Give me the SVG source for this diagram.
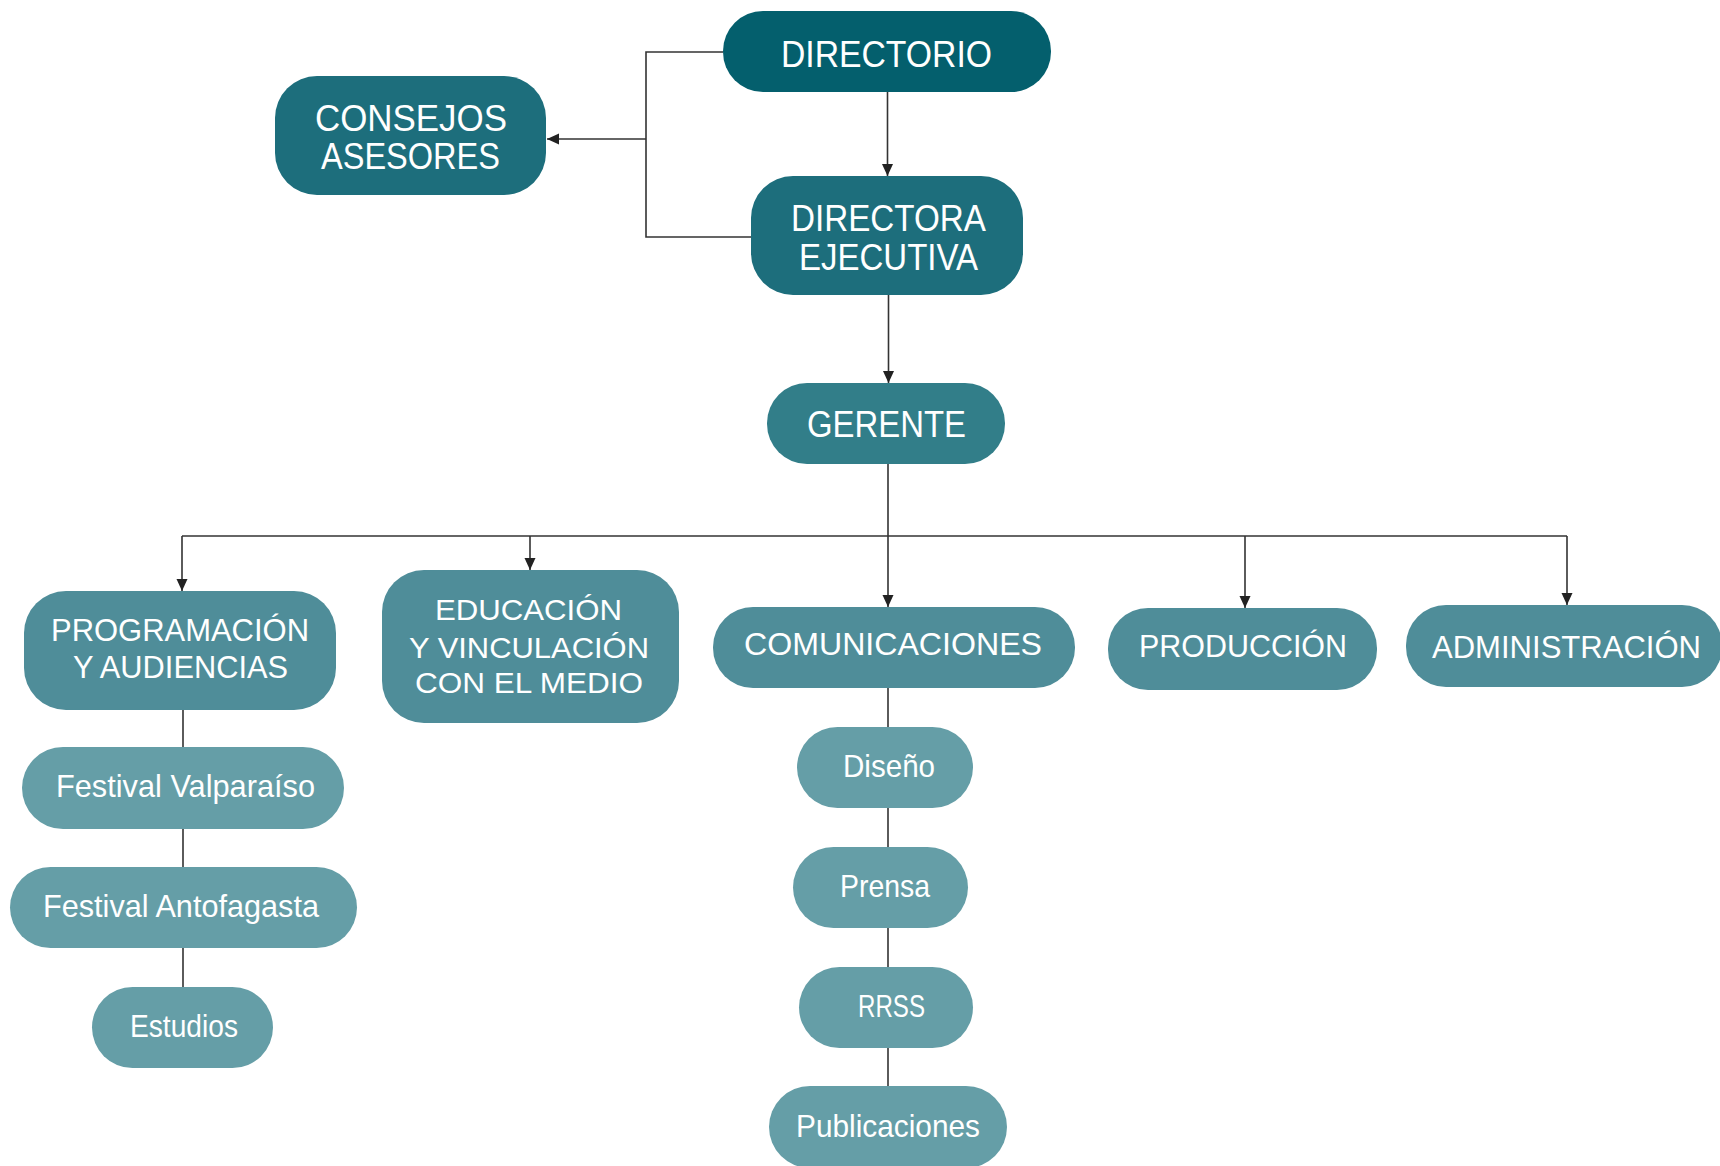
<svg xmlns="http://www.w3.org/2000/svg" width="1720" height="1166" viewBox="0 0 1720 1166">
<style>
.c{fill:none;stroke:#333;stroke-width:1.6}
.t{fill:#fff;font-family:"Liberation Sans",Arial,sans-serif;text-anchor:middle}
.t1{font-size:37px}
.t2{font-size:32px}
.t2s{font-size:30px}
.t3{font-size:32px}
.n0{fill:#045F6D}
.n1{fill:#1D6E7C}
.n2{fill:#327E89}
.n3{fill:#4F8D99}
.n4{fill:#659EA7}
</style>
<defs>
<marker id="ah" markerUnits="userSpaceOnUse" markerWidth="12" markerHeight="12" refX="12" refY="5.5" orient="auto">
<path d="M0,0 L12,5.5 L0,11 z" fill="#222"/>
</marker>
</defs>
<rect width="1720" height="1166" fill="#fff"/>
<g id="connectors">
<polyline class="c" points="723,52 646,52 646,237 751,237"/>
<line class="c" x1="646" y1="139" x2="547" y2="139" marker-end="url(#ah)"/>
<line class="c" x1="887.5" y1="92" x2="887.5" y2="176" marker-end="url(#ah)"/>
<line class="c" x1="888.5" y1="295" x2="888.5" y2="383" marker-end="url(#ah)"/>
<line class="c" x1="888" y1="464" x2="888" y2="607" marker-end="url(#ah)"/>
<line class="c" x1="182" y1="536" x2="1567" y2="536"/>
<line class="c" x1="182" y1="536" x2="182" y2="591" marker-end="url(#ah)"/>
<line class="c" x1="530" y1="536" x2="530" y2="570" marker-end="url(#ah)"/>
<line class="c" x1="1245" y1="536" x2="1245" y2="608" marker-end="url(#ah)"/>
<line class="c" x1="1567" y1="536" x2="1567" y2="605" marker-end="url(#ah)"/>
<line class="c" x1="183" y1="710" x2="183" y2="987"/>
<line class="c" x1="888" y1="688" x2="888" y2="1086"/>
</g>
<g id="directorio"><rect class="n0" x="723" y="11" width="328" height="81" rx="40"/><text class="t t1" x="886.5" y="66.5" textLength="211" lengthAdjust="spacingAndGlyphs">DIRECTORIO</text></g>
<g id="consejos"><rect class="n1" x="275" y="76" width="271" height="119" rx="42"/><text class="t t1" x="411" y="130.5" textLength="192" lengthAdjust="spacingAndGlyphs">CONSEJOS</text><text class="t t1" x="410.5" y="169" textLength="179" lengthAdjust="spacingAndGlyphs">ASESORES</text></g>
<g id="directora"><rect class="n1" x="751" y="176" width="272" height="119" rx="42"/><text class="t t1" x="888.5" y="231" textLength="195" lengthAdjust="spacingAndGlyphs">DIRECTORA</text><text class="t t1" x="888.5" y="269.5" textLength="179" lengthAdjust="spacingAndGlyphs">EJECUTIVA</text></g>
<g id="gerente"><rect class="n2" x="767" y="383" width="238" height="81" rx="40"/><text class="t t1" x="886.5" y="437" textLength="159" lengthAdjust="spacingAndGlyphs">GERENTE</text></g>
<g id="programacion"><rect class="n3" x="24" y="591" width="312" height="119" rx="42"/><text class="t t2" x="180" y="641" textLength="258" lengthAdjust="spacingAndGlyphs">PROGRAMACIÓN</text><text class="t t2" x="180.5" y="678" textLength="215" lengthAdjust="spacingAndGlyphs">Y AUDIENCIAS</text></g>
<g id="educacion"><rect class="n3" x="382" y="570" width="297" height="153" rx="42"/><text class="t t2s" x="528.5" y="620" textLength="187" lengthAdjust="spacingAndGlyphs">EDUCACIÓN</text><text class="t t2s" x="529" y="658" textLength="240" lengthAdjust="spacingAndGlyphs">Y VINCULACIÓN</text><text class="t t2s" x="529" y="693" textLength="228" lengthAdjust="spacingAndGlyphs">CON EL MEDIO</text></g>
<g id="comunicaciones"><rect class="n3" x="713" y="607" width="362" height="81" rx="40"/><text class="t t2" x="893" y="655" textLength="298" lengthAdjust="spacingAndGlyphs">COMUNICACIONES</text></g>
<g id="produccion"><rect class="n3" x="1108" y="608" width="269" height="82" rx="40"/><text class="t t2" x="1243" y="657" textLength="208" lengthAdjust="spacingAndGlyphs">PRODUCCIÓN</text></g>
<g id="administracion"><rect class="n3" x="1406" y="605" width="316" height="82" rx="40"/><text class="t t2" x="1566.5" y="658" textLength="269" lengthAdjust="spacingAndGlyphs">ADMINISTRACIÓN</text></g>
<g id="festival-valparaiso"><rect class="n4" x="22" y="747" width="322" height="82" rx="41"/><text class="t t3" x="185.5" y="797" textLength="259" lengthAdjust="spacingAndGlyphs">Festival Valparaíso</text></g>
<g id="festival-antofagasta"><rect class="n4" x="10" y="867" width="347" height="81" rx="40.5"/><text class="t t3" x="181" y="917" textLength="276" lengthAdjust="spacingAndGlyphs">Festival Antofagasta</text></g>
<g id="estudios"><rect class="n4" x="92" y="987" width="181" height="81" rx="40.5"/><text class="t t3" x="184" y="1037" textLength="108" lengthAdjust="spacingAndGlyphs">Estudios</text></g>
<g id="diseno"><rect class="n4" x="797" y="727" width="176" height="81" rx="40.5"/><text class="t t3" x="889" y="777" textLength="92" lengthAdjust="spacingAndGlyphs">Diseño</text></g>
<g id="prensa"><rect class="n4" x="793" y="847" width="175" height="81" rx="40.5"/><text class="t t3" x="885" y="897" textLength="90" lengthAdjust="spacingAndGlyphs">Prensa</text></g>
<g id="rrss"><rect class="n4" x="799" y="967" width="174" height="81" rx="40.5"/><text class="t t3" x="891.5" y="1017" textLength="67" lengthAdjust="spacingAndGlyphs">RRSS</text></g>
<g id="publicaciones"><rect class="n4" x="769" y="1086" width="238" height="82" rx="41"/><text class="t t3" x="888" y="1137" textLength="184" lengthAdjust="spacingAndGlyphs">Publicaciones</text></g>
</svg>
